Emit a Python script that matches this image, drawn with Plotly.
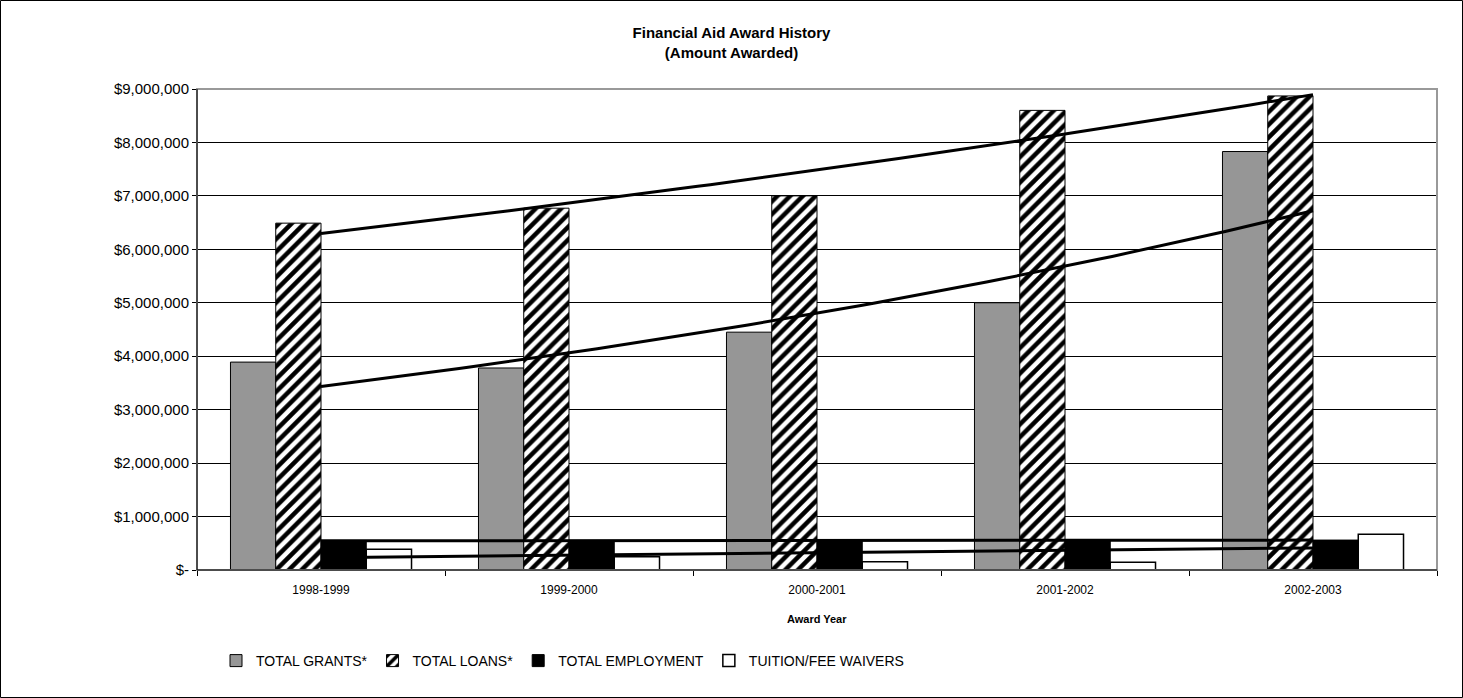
import numpy as np
import plotly.graph_objects as go

years = ["1998-1999", "1999-2000", "2000-2001", "2001-2002", "2002-2003"]
grants = [3890000, 3780000, 4450000, 5000000, 7830000]
loans = [6490000, 6770000, 7000000, 8600000, 8870000]
employment = [545000, 550000, 550000, 555000, 560000]
waivers = [390000, 250000, 155000, 145000, 670000]
y_ticks = [0, 1000000, 2000000, 3000000, 4000000, 5000000, 6000000, 7000000, 8000000, 9000000]
y_labels = ["$-", "$1,000,000", "$2,000,000", "$3,000,000", "$4,000,000",
            "$5,000,000", "$6,000,000", "$7,000,000", "$8,000,000", "$9,000,000"]

W, H = 1463, 698
L, R, T, B = 197, 26, 89, 128
PW, PH = W - L - R, H - T - B

FONT = "Liberation Sans, Arial, sans-serif"

fig = go.Figure()
line = dict(color="black", width=1)
fig.add_trace(go.Bar(name="TOTAL GRANTS*", x=years, y=grants,
                     marker=dict(color="#969696", line=line)))
fig.add_trace(go.Bar(name="TOTAL LOANS*", x=years, y=loans,
                     marker=dict(color="white", line=line,
                                 pattern=dict(shape="/", fgcolor="black", bgcolor="white",
                                              fgopacity=1, size=9, solidity=0.5))))
fig.add_trace(go.Bar(name="TOTAL EMPLOYMENT", x=years, y=employment,
                     marker=dict(color="black", line=line)))
fig.add_trace(go.Bar(name="TUITION/FEE WAIVERS", x=years, y=waivers,
                     marker=dict(color="white", line=dict(color="black", width=1.5))))

# trendlines
idx = np.arange(len(years), dtype=float)
xs = np.linspace(0, len(years) - 1, 80)

def exp_trend(vals):
    b, a = np.polyfit(idx, np.log(vals), 1)
    return np.exp(a + b * xs)

def lin_trend(vals):
    b, a = np.polyfit(idx, np.array(vals, dtype=float), 1)
    return a + b * xs

for tr in [exp_trend(grants), exp_trend(loans), lin_trend(employment), lin_trend(waivers)]:
    fig.add_trace(go.Scatter(x=xs, y=tr, xaxis="x2", mode="lines",
                             line=dict(color="black", width=3), showlegend=False,
                             hoverinfo="skip"))

def py(p):
    return (H - B - p) / PH

def px(p):
    return (p - L) / PW

shapes = [
    dict(type="rect", xref="paper", yref="paper", x0=0, x1=1, y0=0, y1=1,
         line=dict(color="#999999", width=2), layer="above"),
    dict(type="line", xref="paper", yref="paper", x0=0, x1=0, y0=0, y1=1,
         line=dict(color="black", width=1), layer="above"),
    dict(type="line", xref="paper", yref="paper", x0=0, x1=1, y0=0, y1=0,
         line=dict(color="black", width=1), layer="above"),
    dict(type="rect", xref="paper", yref="paper", x0=px(0.5), x1=px(W - 0.5),
         y0=py(H - 0.5), y1=py(0.5), line=dict(color="black", width=1), layer="above"),
]

fig.update_layout(
    width=W, height=H,
    margin=dict(l=L, r=R, t=T, b=B),
    paper_bgcolor="white", plot_bgcolor="white",
    font=dict(family=FONT, color="black"),
    barmode="group", bargap=0.27, bargroupgap=0,
    title=dict(text="<b>Financial Aid Award History<br>(Amount Awarded)</b>",
               x=0.5, xanchor="center", y=1 - 38 / H, yanchor="top",
               font=dict(size=15, family=FONT, color="black")),
    xaxis=dict(range=[-0.5, 4.5], tickson="boundaries", ticks="outside", ticklen=5,
               tickcolor="black", showgrid=False, showline=False, ticklabelstandoff=11,
               tickfont=dict(size=12, family=FONT, color="black")),
    xaxis2=dict(overlaying="x", range=[-0.5, 4.5], visible=False),
    yaxis=dict(range=[0, 9000000], tickvals=y_ticks, ticktext=y_labels,
               ticks="outside", ticklen=4, tickcolor="black", showgrid=True,
               gridcolor="black", gridwidth=1, showline=False, zeroline=False,
               tickfont=dict(size=15, family=FONT, color="black")),
    legend=dict(orientation="h", x=px(216), xanchor="left", y=py(661), yanchor="middle",
                font=dict(size=14, family=FONT, color="black"), traceorder="normal",
                bgcolor="rgba(0,0,0,0)"),
    shapes=shapes,
    annotations=[dict(text="<b>Award Year</b>", xref="paper", yref="paper",
                      x=0.5, y=py(619), xanchor="center", yanchor="middle",
                      showarrow=False, font=dict(size=11, family=FONT, color="black"))],
    showlegend=True,
)

fig.write_html("out.html", config={"displayModeBar": False},
               post_script="document.body.style.margin='0';")
